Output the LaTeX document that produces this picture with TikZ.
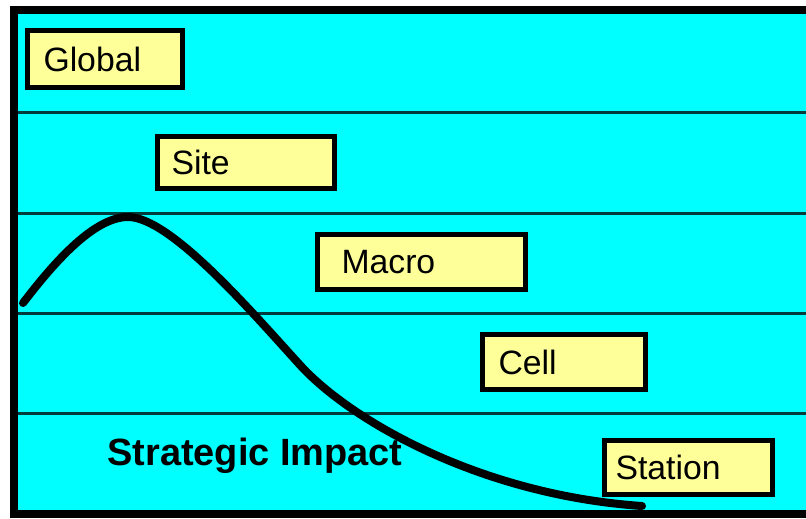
\documentclass[tikz,border=0pt]{standalone}
\usepackage{fontspec}
\setmainfont{Liberation Sans}
\newlength\unitpx
\setlength\unitpx{0.025cm}
\definecolor{panel}{RGB}{0,255,255}
\definecolor{tagfill}{RGB}{255,255,153}
\definecolor{bandline}{RGB}{0,60,60}
\begin{document}
\begin{tikzpicture}[x=0.025cm,y=-0.025cm,
  tag/.style={draw=black, line width=5\unitpx, fill=tagfill, align=left, inner ysep=0pt,
    font=\fontsize{24}{28}\selectfont},
  band/.style={bandline, line width=3\unitpx},
  impact/.style={black, line width=8\unitpx, line cap=round, line join=round}]
\useasboundingbox (0,0) rectangle (806,518);
\fill[white] (0,0) rectangle (806,518);
\fill[panel] (14,10) rectangle (806,514);
\foreach \y in {113,213,313,413}
  \draw[band] (14,\y) -- (806,\y);
\draw[black, line width=8\unitpx] (806,10) -- (14,10) -- (14,514) -- (806,514);

\node[tag, minimum height=57\unitpx, inner xsep=16\unitpx, text width=123\unitpx] (global) at (105,59) {Global};
\node[tag, minimum height=52\unitpx, inner xsep=14\unitpx, text width=149\unitpx] (site) at (246,162.5) {Site};
\node[tag, minimum height=55\unitpx, inner xsep=24\unitpx, text width=160\unitpx] (macro) at (421.5,262) {Macro};
\node[tag, minimum height=55\unitpx, inner xsep=16\unitpx, text width=131\unitpx] (cell) at (564,362) {Cell};

\node[anchor=base west, inner sep=0pt, font=\bfseries\fontsize{27}{32}\selectfont] (label) at (107,465) {Strategic Impact};

\coordinate (start) at (23,303);
\coordinate (peak) at (128,217);
\coordinate (bend) at (300,365);
\coordinate (tail) at (642,506);
\draw[impact] (start) .. controls (50,268) and (92,217) .. (peak)
  .. controls (170,217) and (250,310) .. (bend)
  .. controls (350,420) and (480,495) .. (tail);

\node[tag, minimum height=54\unitpx, inner xsep=11\unitpx, text width=146\unitpx] (station) at (688.5,467.5) {Station};
\end{tikzpicture}
\end{document}
